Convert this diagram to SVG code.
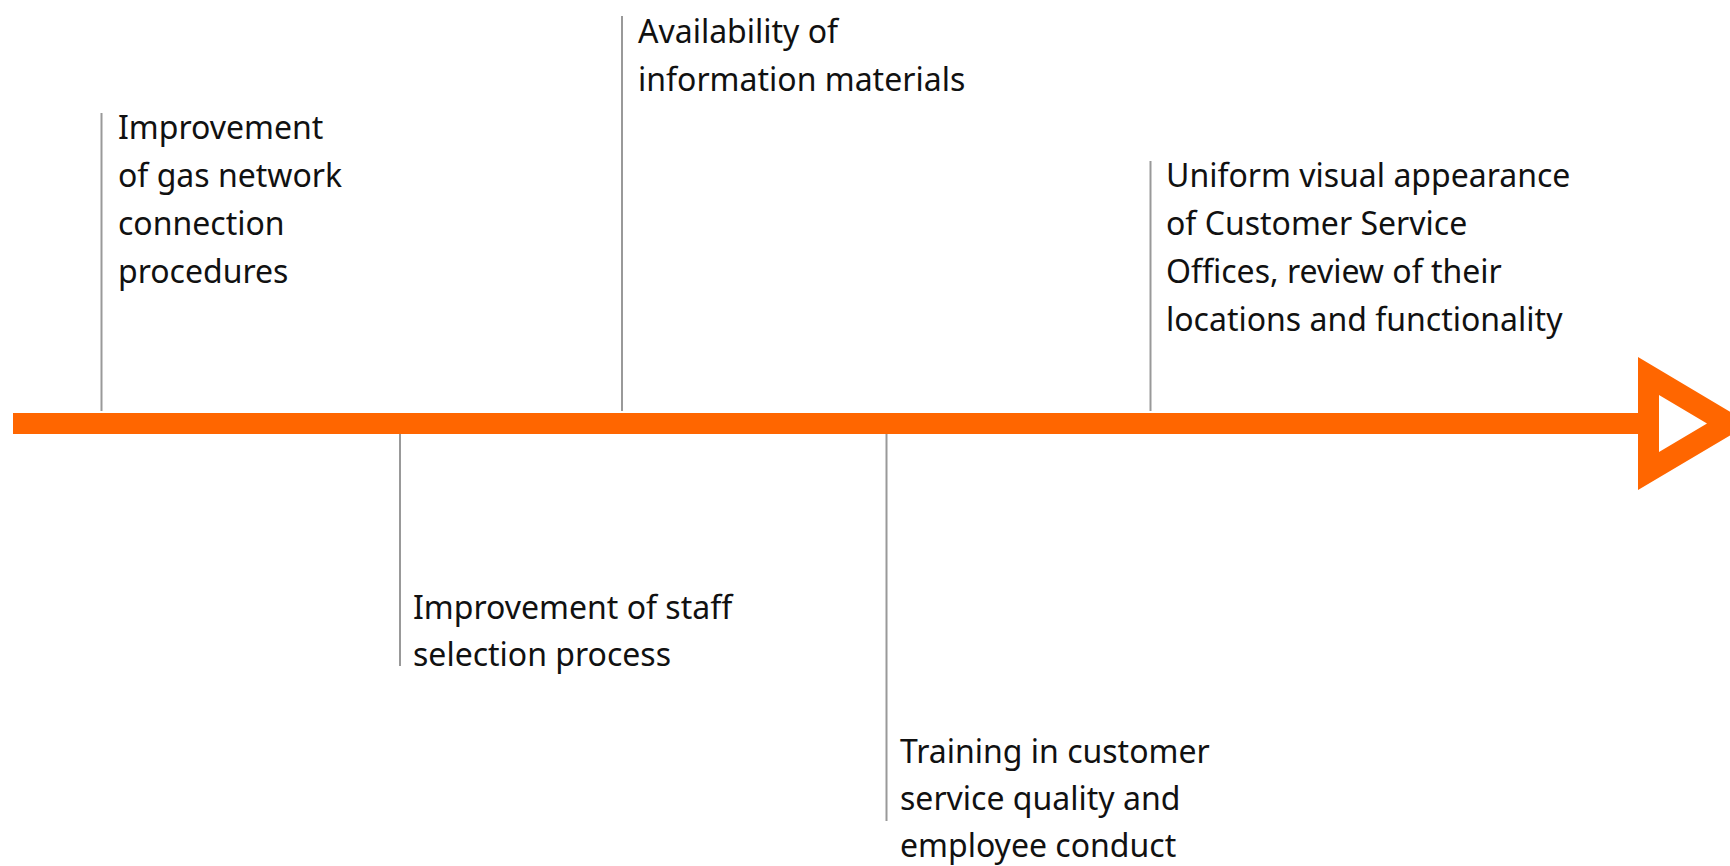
<svg xmlns="http://www.w3.org/2000/svg" width="1730" height="866" viewBox="0 0 1730 866">
  <style>
    .lbl { font-family: "Noto Sans", "Open Sans", sans-serif; font-size: 32px; fill: #111111; }
    .tick { stroke: #999999; stroke-width: 2; fill: none; }
    .axis { fill: #FF6600; }
  </style>
  <rect width="1730" height="866" fill="#ffffff"/>
  <g id="connectors">
    <rect class="axis" x="13" y="413" width="1630" height="21"/>
    <path class="axis" fill-rule="evenodd" d="M1638,357 L1750,423.5 L1638,490 Z M1659,395 L1707,423.5 L1659,452 Z"/>
  </g>
  <g id="node-gas-connection">
    <line class="tick" x1="101.5" y1="113" x2="101.5" y2="411"/>
    <text class="lbl" x="118" y="139">Improvement</text>
    <text class="lbl" x="118" y="187">of gas network</text>
    <text class="lbl" x="118" y="235">connection</text>
    <text class="lbl" x="118" y="283">procedures</text>
  </g>
  <g id="node-information">
    <line class="tick" x1="622" y1="16" x2="622" y2="411"/>
    <text class="lbl" x="638" y="42.5">Availability of</text>
    <text class="lbl" x="638" y="90.5">information materials</text>
  </g>
  <g id="node-offices">
    <line class="tick" x1="1150.5" y1="161" x2="1150.5" y2="411"/>
    <text class="lbl" x="1166" y="187">Uniform visual appearance</text>
    <text class="lbl" x="1166" y="235">of Customer Service</text>
    <text class="lbl" x="1166" y="283">Offices, review of their</text>
    <text class="lbl" x="1166" y="331">locations and functionality</text>
  </g>
  <g id="node-staff">
    <line class="tick" x1="400" y1="434" x2="400" y2="666"/>
    <text class="lbl" x="413" y="619">Improvement of staff</text>
    <text class="lbl" x="413" y="666">selection process</text>
  </g>
  <g id="node-training">
    <line class="tick" x1="886.5" y1="434" x2="886.5" y2="821"/>
    <text class="lbl" x="900" y="763">Training in customer</text>
    <text class="lbl" x="900" y="810">service quality and</text>
    <text class="lbl" x="900" y="857">employee conduct</text>
  </g>
</svg>
